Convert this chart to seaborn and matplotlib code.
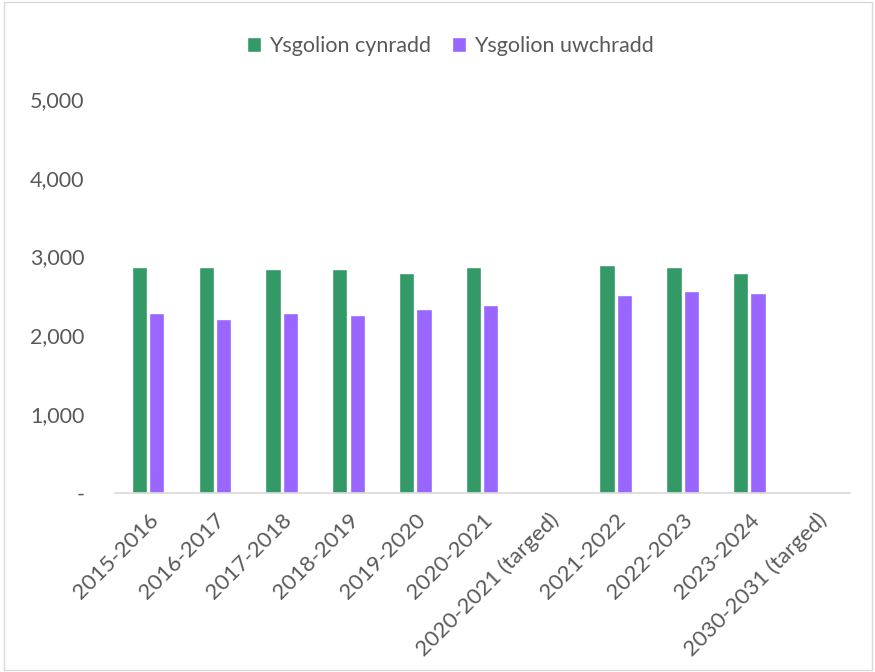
import matplotlib
matplotlib.use("Agg")
import matplotlib.pyplot as plt
import seaborn as sns
import numpy as np
import pandas as pd
from matplotlib.patches import Rectangle

categories = ["2015-2016", "2016-2017", "2017-2018", "2018-2019", "2019-2020",
              "2020-2021", "2020-2021 (targed)", "2021-2022", "2022-2023",
              "2023-2024", "2030-2031 (targed)"]
cynradd = [2865, 2868, 2840, 2840, 2790, 2868, np.nan, 2890, 2865, 2790, np.nan]
uwchradd = [2280, 2205, 2280, 2255, 2330, 2382, np.nan, 2510, 2560, 2535, np.nan]
series_names = ["Ysgolion cynradd", "Ysgolion uwchradd"]
yticks = [0, 1000, 2000, 3000, 4000, 5000]
ytick_labels = ["-", "1,000", "2,000", "3,000", "4,000", "5,000"]

df = pd.DataFrame({
    "cat": categories * 2,
    "val": cynradd + uwchradd,
    "series": [series_names[0]] * len(categories) + [series_names[1]] * len(categories),
})

sns.set_style("white")
plt.rcParams["font.family"] = ["Lato", "DejaVu Sans"]

fig = plt.figure(figsize=(8.75, 6.72), dpi=100)
ax = fig.add_axes([0.131, 0.2664, 0.840, 0.5863])

sns.barplot(data=df, x="cat", y="val", hue="series", order=categories,
            hue_order=series_names, palette=["#339966", "#9966FF"],
            saturation=1, width=0.52, gap=0.12, ax=ax, legend=True)

ax.set_ylim(0, 5000)
ax.set_xlim(-0.5, len(categories) - 0.5)
ax.set_yticks(yticks)
ax.set_yticklabels(ytick_labels)
ax.set_xlabel("")
ax.set_ylabel("")
for s in ["top", "right", "left"]:
    ax.spines[s].set_visible(False)
ax.spines["bottom"].set_color("#d9d9d9")
ax.spines["bottom"].set_linewidth(1.2)

ax.set_xticks(range(len(categories)))
ax.set_xticklabels(categories, rotation=45, ha="right", rotation_mode="anchor",
                   fontsize=16, color="#595959")
ax.set_xticks(np.arange(-0.5, len(categories), 1), minor=True)
ax.tick_params(axis="x", which="major", length=0, pad=12)
ax.tick_params(axis="x", which="minor", length=8, color="#d9d9d9", width=1.2, direction="out")
ax.tick_params(axis="y", length=0, labelsize=15.5, labelcolor="#595959", pad=21.6)

leg = ax.legend(loc="center", bbox_to_anchor=(0.457, 1.134), ncol=2, frameon=False,
                fontsize=15.5, handlelength=0.65, handleheight=0.65, handletextpad=0.4,
                columnspacing=0.95)
for t in leg.get_texts():
    t.set_color("#595959")

fig.patches.append(Rectangle((0.004, 0.003), 0.992, 0.994, transform=fig.transFigure,
                             fill=False, edgecolor="#d9d9d9", linewidth=1))

fig.savefig("out.png", dpi=100)
